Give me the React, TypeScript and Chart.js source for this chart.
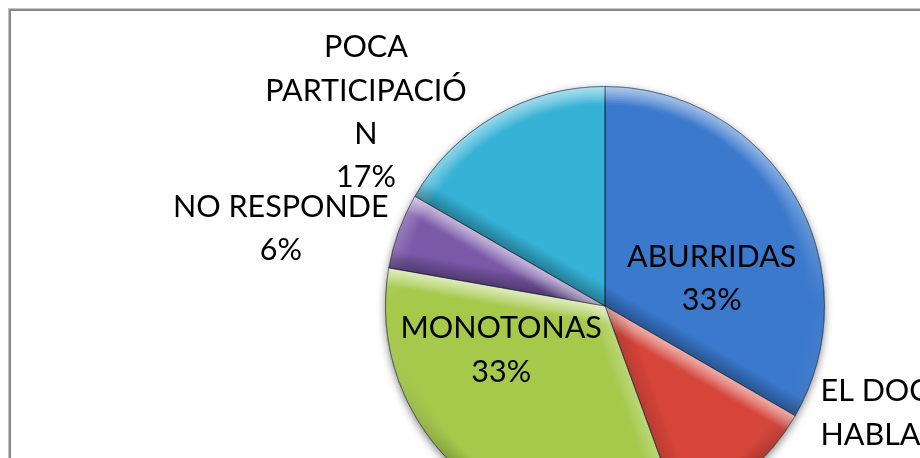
import React, { useEffect, useRef } from "react";
import { Chart, registerables } from "chart.js";

Chart.register(...registerables);

// ---- data ----
const categories = [
  "ABURRIDAS",
  "EL DOCENTE HABLA MUCHO",
  "MONOTONAS",
  "NO RESPONDE",
  "POCA PARTICIPACIÓN",
];
const counts = [6, 2, 6, 1, 3];
const labelLines = [
  ["ABURRIDAS"],
  ["EL DOCENTE", "HABLA MUCHO"],
  ["MONOTONAS"],
  ["NO RESPONDE"],
  ["POCA", "PARTICIPACIÓ", "N"],
];

// ---- styles / layout ----
const sliceColors = ["#3B79CD", "#D6453A", "#A6C94B", "#7B59A9", "#35B2D6"];
// label anchor (first baseline) relative to pie centre, in units of the outer radius
const labelLayout = [
  { dx: 0.486, dy: -0.179, align: "center" },
  { dx: 0.982, dy: 0.435, align: "left" },
  { dx: -0.473, dy: 0.148, align: "center" },
  { dx: -1.477, dy: -0.406, align: "center" },
  { dx: -1.089, dy: -1.133, align: "center" },
];
const FONT = "30.5px Lato, 'Open Sans', sans-serif";
const LINE_H = 43.3;

const framePlugin = {
  id: "frame",
  beforeDraw(chart: any) {
    const ctx = chart.ctx;
    ctx.save();
    ctx.fillStyle = "#ffffff";
    ctx.fillRect(0, 0, chart.width, chart.height);
    ctx.strokeStyle = "#c4c4c4";
    ctx.lineWidth = 1;
    ctx.strokeRect(8.5, 8.5, chart.width, chart.height);
    ctx.strokeStyle = "#8a8a8a";
    ctx.lineWidth = 2;
    ctx.strokeRect(10, 10, chart.width, chart.height);
    ctx.restore();
  },
};

const shadowPlugin = {
  id: "pieShadow",
  beforeDatasetsDraw(chart: any) {
    const arcs = chart.getDatasetMeta(0).data;
    if (!arcs.length) return;
    const { x, y, outerRadius } = arcs[0].getProps(["x", "y", "outerRadius"], true);
    const ctx = chart.ctx;
    ctx.save();
    ctx.shadowColor = "rgba(0,0,0,0.5)";
    ctx.shadowBlur = 9;
    ctx.shadowOffsetY = 3;
    ctx.fillStyle = "#ffffff";
    ctx.beginPath();
    ctx.arc(x, y, outerRadius, 0, Math.PI * 2);
    ctx.fill();
    ctx.restore();
  },
};

function shadeColor(s: number, a: number) {
  return s >= 0
    ? `rgba(255,255,255,${(s * a).toFixed(3)})`
    : `rgba(0,0,0,${(-s * a * 0.45).toFixed(3)})`;
}

const bevelPlugin = {
  id: "bevel",
  afterDatasetsDraw(chart: any) {
    const ctx = chart.ctx;
    const arcs = chart.getDatasetMeta(0).data;
    const steps = 9;
    const band = 18;
    arcs.forEach((arc: any) => {
      const { x, y, startAngle, endAngle, outerRadius } = arc.getProps(
        ["x", "y", "startAngle", "endAngle", "outerRadius"],
        true
      );
      const R = outerRadius;
      ctx.save();
      ctx.beginPath();
      ctx.moveTo(x, y);
      ctx.arc(x, y, R, startAngle, endAngle);
      ctx.closePath();
      ctx.clip();
      // outer rim bevel
      const cg = ctx.createConicGradient(0, x, y);
      const A = 0.5;
      cg.addColorStop(0, shadeColor(0, A));
      cg.addColorStop(0.125, shadeColor(-0.7, A));
      cg.addColorStop(0.25, shadeColor(-1, A));
      cg.addColorStop(0.375, shadeColor(-0.7, A));
      cg.addColorStop(0.5, shadeColor(0, A));
      cg.addColorStop(0.625, shadeColor(0.7, A));
      cg.addColorStop(0.75, shadeColor(1, A));
      cg.addColorStop(0.875, shadeColor(0.7, A));
      cg.addColorStop(1, shadeColor(0, A));
      ctx.strokeStyle = cg;
      for (let i = 0; i < steps; i++) {
        ctx.globalAlpha = (1 - i / steps) * 0.75;
        ctx.lineWidth = (band / steps) * 2;
        ctx.beginPath();
        ctx.arc(x, y, R - (i * band) / steps, startAngle - 0.1, endAngle + 0.1);
        ctx.stroke();
      }
      // radial edges
      const edges = [
        { a: startAngle, n: startAngle + Math.PI / 2, s: Math.cos(startAngle) },
        { a: endAngle, n: endAngle - Math.PI / 2, s: -Math.cos(endAngle) },
      ];
      edges.forEach((e) => {
        ctx.strokeStyle = shadeColor(e.s, 0.55);
        for (let i = 0; i < steps; i++) {
          const off = (i * band) / steps;
          const ox = Math.cos(e.n) * off;
          const oy = Math.sin(e.n) * off;
          ctx.globalAlpha = (1 - i / steps) * 0.75;
          ctx.lineWidth = (band / steps) * 2;
          ctx.beginPath();
          ctx.moveTo(x + ox - Math.cos(e.a) * 40, y + oy - Math.sin(e.a) * 40);
          ctx.lineTo(x + ox + Math.cos(e.a) * (R + 20), y + oy + Math.sin(e.a) * (R + 20));
          ctx.stroke();
        }
      });
      ctx.restore();
      // crisp edge line
      ctx.save();
      ctx.strokeStyle = "rgba(20,30,50,0.4)";
      ctx.lineWidth = 1;
      ctx.beginPath();
      ctx.moveTo(x, y);
      ctx.arc(x, y, R, startAngle, endAngle);
      ctx.closePath();
      ctx.stroke();
      ctx.restore();
    });
  },
};

const labelPlugin = {
  id: "sliceLabels",
  afterDraw(chart: any) {
    const ctx = chart.ctx;
    const meta = chart.getDatasetMeta(0);
    const values = chart.data.datasets[0].data as number[];
    const total = values.reduce((s, v) => s + v, 0);
    ctx.save();
    ctx.font = FONT;
    ctx.fillStyle = "#000000";
    ctx.textBaseline = "alphabetic";
    meta.data.forEach((arc: any, i: number) => {
      const { x, y, outerRadius } = arc.getProps(["x", "y", "outerRadius"], true);
      const lay = labelLayout[i];
      const lx = x + lay.dx * outerRadius;
      const ly = y + lay.dy * outerRadius;
      const lines = [...labelLines[i], Math.round((values[i] / total) * 100) + "%"];
      ctx.textAlign = lay.align;
      lines.forEach((ln, k) => ctx.fillText(ln, lx, ly + k * LINE_H));
    });
    ctx.restore();
  },
};

export default function App() {
  const ref = useRef<HTMLCanvasElement | null>(null);
  useEffect(() => {
    if (!ref.current) return;
    const chart = new Chart(ref.current, {
      type: "pie",
      data: {
        labels: categories,
        datasets: [
          {
            data: counts,
            backgroundColor: sliceColors,
            borderColor: "rgba(20,30,50,0.4)",
            borderWidth: 1,
          },
        ],
      },
      options: {
        responsive: false,
        animation: false,
        devicePixelRatio: 1,
        events: [],
        layout: { padding: { left: 385, right: 385, top: 86, bottom: 86 } },
        plugins: {
          legend: { display: false },
          tooltip: { enabled: false },
        },
      },
      plugins: [framePlugin, shadowPlugin, bevelPlugin, labelPlugin],
    });
    return () => chart.destroy();
  }, []);
  return (
    <div
      style={{
        position: "absolute",
        left: 0,
        top: 0,
        width: 920,
        height: 458,
        overflow: "hidden",
        background: "#fff",
      }}
    >
      <canvas
        ref={ref}
        width={1210}
        height={612}
        style={{ width: 1210, height: 612, display: "block" }}
      />
    </div>
  );
}
